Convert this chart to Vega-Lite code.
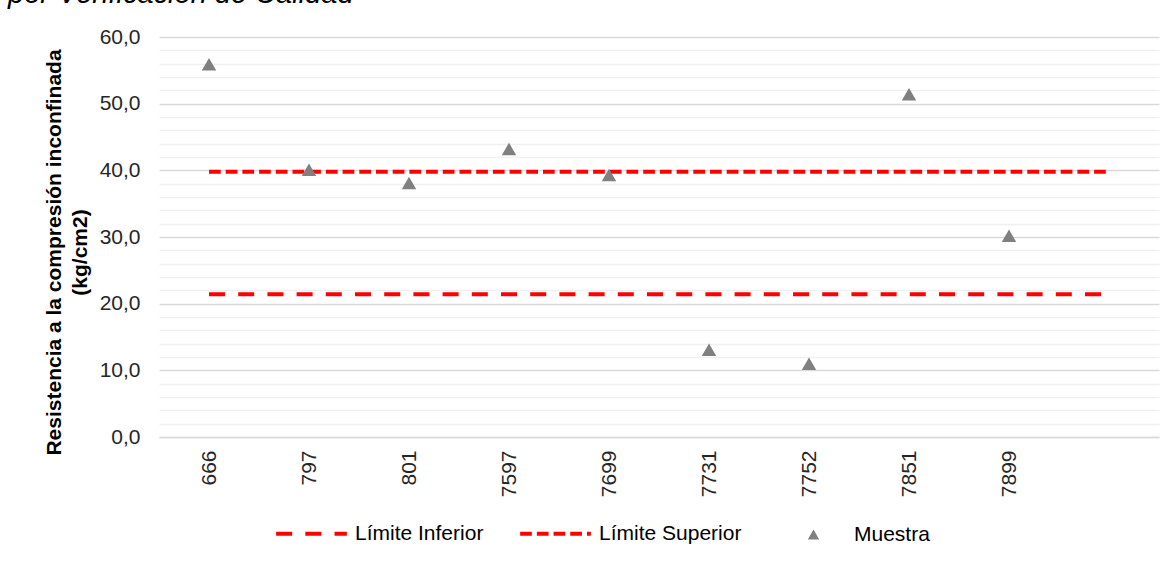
{
  "$schema": "https://vega.github.io/schema/vega-lite/v6.json",
  "width": 1000,
  "height": 400,
  "autosize": {"type": "none"},
  "padding": {"left": 159, "top": 37, "right": 15, "bottom": 126},
  "background": "white",
  "title": {
    "text": "por Verificación de Calidad",
    "anchor": "start",
    "frame": "group",
    "dx": -151,
    "offset": 0,
    "dy": 6,
    "fontSize": 29,
    "fontStyle": "italic",
    "fontWeight": "normal",
    "color": "#000000",
    "baseline": "alphabetic"
  },
  "data": {
    "values": [
      {"muestra": "666", "serie": "Límite Inferior", "valor": 21.4},
      {"muestra": "797", "serie": "Límite Inferior", "valor": 21.4},
      {"muestra": "801", "serie": "Límite Inferior", "valor": 21.4},
      {"muestra": "7597", "serie": "Límite Inferior", "valor": 21.4},
      {"muestra": "7699", "serie": "Límite Inferior", "valor": 21.4},
      {"muestra": "7731", "serie": "Límite Inferior", "valor": 21.4},
      {"muestra": "7752", "serie": "Límite Inferior", "valor": 21.4},
      {"muestra": "7851", "serie": "Límite Inferior", "valor": 21.4},
      {"muestra": "7899", "serie": "Límite Inferior", "valor": 21.4},
      {"muestra": "", "serie": "Límite Inferior", "valor": 21.4},
      {"muestra": "666", "serie": "Límite Superior", "valor": 39.8},
      {"muestra": "797", "serie": "Límite Superior", "valor": 39.8},
      {"muestra": "801", "serie": "Límite Superior", "valor": 39.8},
      {"muestra": "7597", "serie": "Límite Superior", "valor": 39.8},
      {"muestra": "7699", "serie": "Límite Superior", "valor": 39.8},
      {"muestra": "7731", "serie": "Límite Superior", "valor": 39.8},
      {"muestra": "7752", "serie": "Límite Superior", "valor": 39.8},
      {"muestra": "7851", "serie": "Límite Superior", "valor": 39.8},
      {"muestra": "7899", "serie": "Límite Superior", "valor": 39.8},
      {"muestra": "", "serie": "Límite Superior", "valor": 39.8},
      {"muestra": "666", "serie": "Muestra", "valor": 55.9},
      {"muestra": "797", "serie": "Muestra", "valor": 40.1},
      {"muestra": "801", "serie": "Muestra", "valor": 38.1},
      {"muestra": "7597", "serie": "Muestra", "valor": 43.2},
      {"muestra": "7699", "serie": "Muestra", "valor": 39.3},
      {"muestra": "7731", "serie": "Muestra", "valor": 13.1},
      {"muestra": "7752", "serie": "Muestra", "valor": 11.0},
      {"muestra": "7851", "serie": "Muestra", "valor": 51.4},
      {"muestra": "7899", "serie": "Muestra", "valor": 30.2}
    ]
  },
  "encoding": {
    "x": {
      "field": "muestra",
      "type": "nominal",
      "sort": null,
      "scale": {
        "type": "point",
        "padding": 0.5,
        "domain": ["666", "797", "801", "7597", "7699", "7731", "7752", "7851", "7899", ""]
      },
      "axis": {
        "title": null,
        "labelAngle": -90,
        "labelFontSize": 21,
        "labelPadding": 13,
        "labelColor": "#262626",
        "ticks": false,
        "tickSize": 0,
        "grid": false,
        "domain": true,
        "domainColor": "#d9d9d9",
        "domainWidth": 1.3,
        "labelOverlap": false
      }
    },
    "y": {
      "field": "valor",
      "type": "quantitative",
      "scale": {"domain": [0, 60], "nice": false},
      "axis": {
        "values": [0, 2, 4, 6, 8, 10, 12, 14, 16, 18, 20, 22, 24, 26, 28, 30, 32, 34, 36, 38, 40, 42, 44, 46, 48, 50, 52, 54, 56, 58, 60],
        "labelExpr": "datum.value % 10 == 0 ? replace(format(datum.value, '.1f'), '.', ',') : ''",
        "labelOverlap": false,
        "labelFontSize": 21,
        "labelColor": "#262626",
        "labelPadding": 19,
        "ticks": false,
        "tickSize": 0,
        "domain": false,
        "grid": true,
        "gridColor": {"condition": {"test": "datum.value % 10 == 0", "value": "#d9d9d9"}, "value": "#f0f0f0"},
        "gridWidth": 1.3,
        "title": ["Resistencia a la compresión inconfinada", "(kg/cm2)"],
        "titleFontSize": 21,
        "titleFontWeight": "bold",
        "titleColor": "#000000",
        "titleAngle": 270,
        "titleAlign": "center",
        "titleBaseline": "middle",
        "titleLineHeight": 26,
        "titleX": -105,
        "titleY": 215
      }
    }
  },
  "layer": [
    {
      "transform": [{"filter": {"not": {"field": "serie", "equal": "Muestra"}}}],
      "mark": {"type": "line", "strokeWidth": 4, "strokeCap": "butt"},
      "encoding": {
        "color": {
          "field": "serie",
          "type": "nominal",
          "scale": {"domain": ["Límite Inferior", "Límite Superior"], "range": ["#ff0000", "#ff0000"]},
          "legend": {
            "orient": "none",
            "legendX": 115,
            "legendY": 459,
            "direction": "horizontal",
            "title": null,
            "symbolType": "stroke",
            "symbolSize": 5000,
            "symbolStrokeWidth": 4,
            "labelFontSize": 21,
            "labelOffset": 6,
            "labelColor": "#000000",
            "columnPadding": 28
          }
        },
        "strokeDash": {
          "field": "serie",
          "type": "nominal",
          "scale": {"domain": ["Límite Inferior", "Límite Superior"], "range": [[16, 13.2], [11.7, 5]]},
          "legend": {
            "orient": "none",
            "legendX": 115,
            "legendY": 459,
            "direction": "horizontal",
            "title": null,
            "symbolType": "stroke",
            "symbolSize": 5000,
            "symbolStrokeWidth": 4,
            "labelFontSize": 21,
            "labelOffset": 6,
            "labelColor": "#000000",
            "columnPadding": 28
          }
        }
      }
    },
    {
      "transform": [{"filter": {"field": "serie", "equal": "Muestra"}}],
      "mark": {"type": "point", "filled": true, "color": "#808080", "size": 210, "opacity": 1},
      "encoding": {
        "shape": {
          "field": "serie",
          "type": "nominal",
          "scale": {"domain": ["Muestra"], "range": ["triangle-up"]},
          "legend": {
            "orient": "none",
            "legendX": 644,
            "legendY": 487,
            "title": null,
            "symbolSize": 130,
            "symbolFillColor": "#808080",
            "symbolStrokeColor": "#808080",
            "symbolStrokeWidth": 0,
            "labelFontSize": 21,
            "labelOffset": 30,
            "labelColor": "#000000"
          }
        }
      }
    }
  ],
  "config": {
    "font": "Liberation Sans",
    "view": {"stroke": null}
  }
}
